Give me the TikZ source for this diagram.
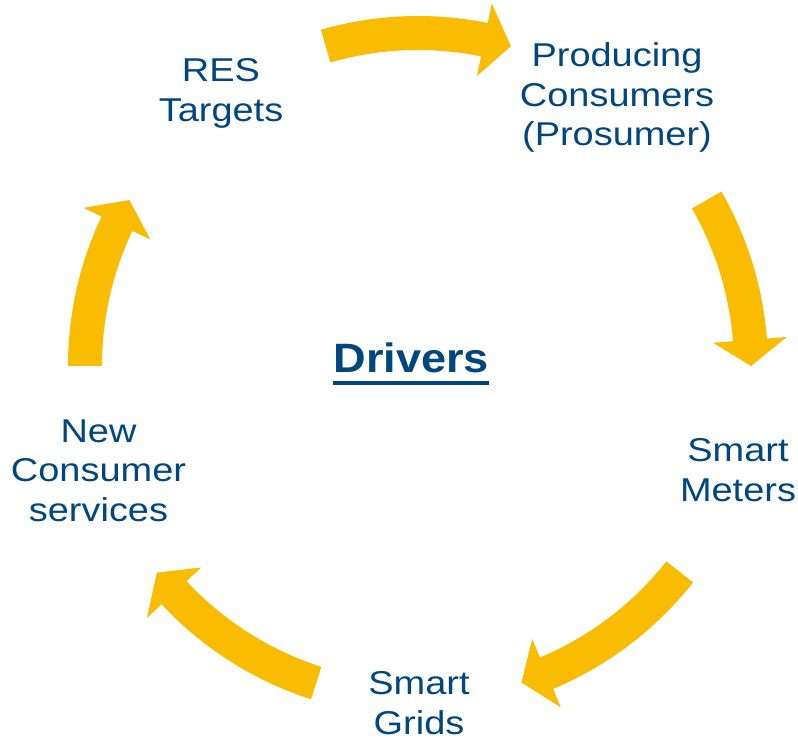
\documentclass[tikz,border=0pt]{standalone}
\usepackage{fontspec}
\setmainfont{Liberation Sans}
\definecolor{arrowyellow}{RGB}{250,188,0}
\definecolor{textblue}{RGB}{0,70,128}
\tikzset{
  cyclearrow/.style={fill=arrowyellow, draw=none},
  cyclabel/.style={text=textblue, font=\fontsize{33}{39.5}\selectfont, align=center,
    anchor=base, inner sep=0pt, xscale=1.15, transform shape},
  titlelabel/.style={text=textblue, font=\fontsize{41}{48}\selectfont\bfseries,
    anchor=base, inner sep=0pt, xscale=1.1, transform shape},
}
% #1 tail angle, #2 head base angle, #3 tip angle
\newcommand\cyclearrowshape[3]{%
  \fill[cyclearrow] (#1:350) arc[start angle=#1, end angle=#2, radius=350]
    -- (#2:370) -- (#3:333) -- (#2:296) -- (#2:316)
    arc[start angle=#2, end angle=#1, radius=316] -- cycle;}
\begin{document}
\begin{tikzpicture}[x=1pt,y=1pt]
\useasboundingbox (0,0) rectangle (798,738);
\begin{scope}[shift={(418,372)}]
  \cyclearrowshape{106.1}{78.5}{73.8}
  \cyclearrowshape{29.9}{4.5}{0}
  \cyclearrowshape{-38.2}{-67.3}{-71.9}
  \cyclearrowshape{-107.8}{-137.1}{-141.65}
  \cyclearrowshape{180}{154.7}{150.1}
\end{scope}
% base anchor of a multi-line node lies on its last line
\node[cyclabel] (res) at (221,616.8) {RES\\Targets};
\node[cyclabel] (pros) at (617,592.3) {Producing\\Consumers\\(Prosumer)};
\node[cyclabel] (meters) at (738,236.8) {Smart\\Meters};
\node[cyclabel] (grids) at (419,3.5) {Smart\\Grids};
\node[cyclabel] (services) at (98.5,216.7) {New\\Consumer\\services};
\node[titlelabel] (drivers) at (411.3,365.3) {Drivers};
\draw[textblue, line width=3.6pt] ([yshift=-10.6pt]drivers.base west) -- ([yshift=-10.6pt]drivers.base east);
\end{tikzpicture}
\end{document}
